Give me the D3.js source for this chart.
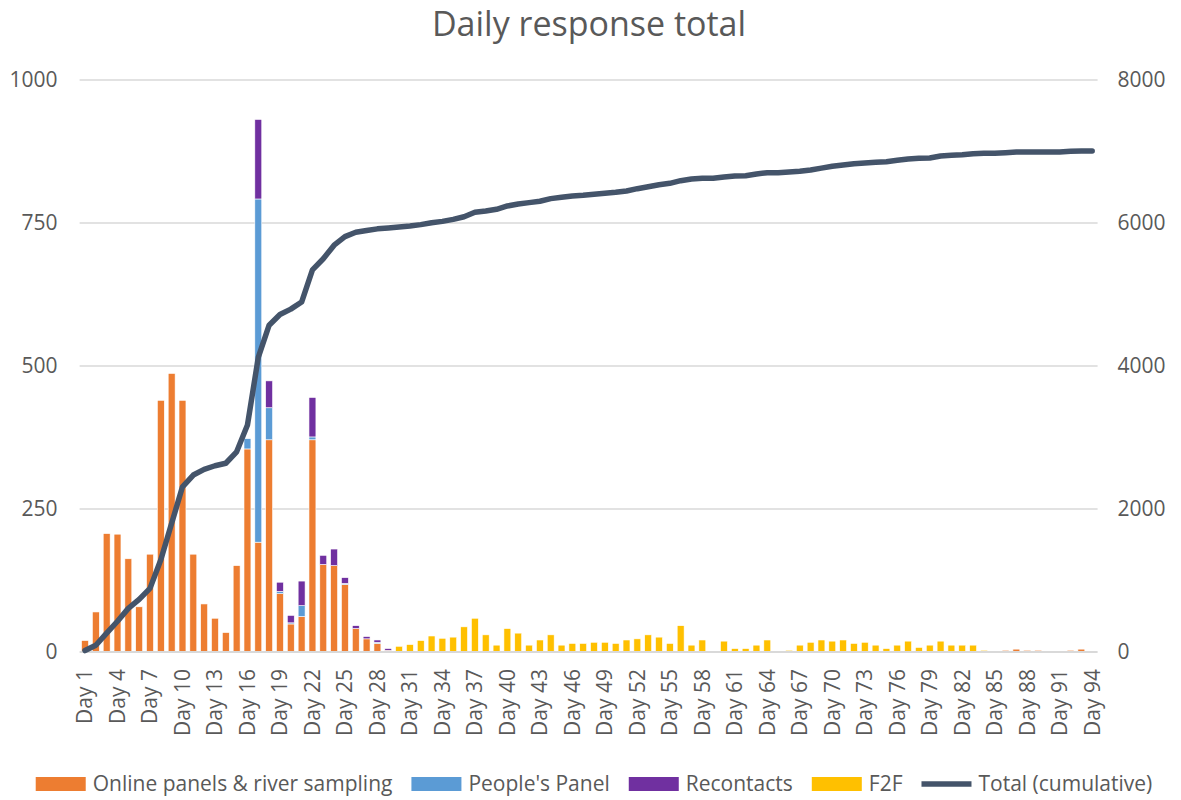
<!DOCTYPE html>
<html>
<head>
<meta charset="utf-8">
<script src="https://cdnjs.cloudflare.com/ajax/libs/d3/7.8.5/d3.min.js"></script>
<style>
  body { margin: 0; background: #fff; }
  svg text { font-family: "Open Sans", sans-serif; fill: #595959; }
</style>
</head>
<body>
<div id="chart"></div>
<script>
// === data (one entry per day, Day 1 .. Day 94)
var days = d3.range(1, 95).map(function(d) { return "Day " + d; });
var tickDays = [1, 4, 7, 10, 13, 16, 19, 22, 25, 28, 31, 34, 37, 40, 43, 46,
  49, 52, 55, 58, 61, 64, 67, 70, 73, 76, 79, 82, 85, 88, 91, 94];

var online = [
  20, 70, 207, 206, 163, 79, 171, 440, 487, 440,
  171, 84, 59, 34, 151, 355, 192, 371, 102, 49,
  62, 371, 153, 151, 118, 41, 23, 15, 3, 0,
  0, 0, 0, 0, 0, 0, 0, 0, 0, 0,
  0, 0, 0, 0, 0, 0, 0, 0, 0, 0,
  0, 0, 0, 0, 0, 0, 0, 0, 0, 0,
  0, 0, 0, 0, 0, 0, 0, 0, 0, 0,
  0, 0, 0, 0, 0, 0, 0, 0, 0, 0,
  0, 0, 0, 0, 0, 3, 5, 3, 3, 0,
  0, 3, 5, 0];

var peoples = [
  0, 0, 0, 0, 0, 0, 0, 0, 0, 0,
  0, 0, 0, 0, 0, 18, 600, 56, 4, 2,
  19, 5, 0, 0, 2, 0, 0, 2, 0, 0,
  0, 0, 0, 0, 0, 0, 0, 0, 0, 0,
  0, 0, 0, 0, 0, 0, 0, 0, 0, 0,
  0, 0, 0, 0, 0, 0, 0, 0, 0, 0,
  0, 0, 0, 0, 0, 0, 0, 0, 0, 0,
  0, 0, 0, 0, 0, 0, 0, 0, 0, 0,
  0, 0, 0, 0, 0, 0, 0, 0, 0, 0,
  0, 0, 0, 0];

var recontacts = [
  0, 0, 0, 0, 0, 0, 0, 0, 0, 0,
  0, 0, 0, 0, 0, 0, 139, 47, 16, 13,
  43, 69, 16, 29, 10, 5, 4, 4, 3, 0,
  0, 0, 0, 0, 0, 0, 0, 0, 0, 0,
  0, 0, 0, 0, 0, 0, 0, 0, 0, 0,
  0, 0, 0, 0, 0, 0, 0, 0, 0, 0,
  0, 0, 0, 0, 0, 0, 0, 0, 0, 0,
  0, 0, 0, 0, 0, 0, 0, 0, 0, 0,
  0, 0, 0, 0, 0, 0, 0, 0, 0, 0,
  0, 0, 0, 0];

var f2f = [
  0, 0, 0, 0, 0, 0, 0, 0, 0, 0,
  0, 0, 0, 0, 0, 0, 0, 0, 0, 0,
  0, 0, 0, 0, 0, 0, 0, 0, 0, 10,
  13, 20, 28, 24, 26, 44, 59, 30, 12, 41,
  33, 12, 21, 30, 12, 15, 15, 17, 17, 15,
  21, 23, 30, 26, 15, 46, 12, 21, 0, 19,
  6, 6, 12, 21, 0, 3, 12, 17, 21, 19,
  21, 15, 17, 12, 6, 12, 19, 8, 12, 19,
  12, 12, 12, 3, 0, 0, 0, 0, 0, 0,
  0, 0, 0, 0];

var total = [
  20, 95, 265, 430, 610, 735, 890, 1290, 1800, 2310,
  2475, 2555, 2605, 2640, 2800, 3175, 4120, 4570, 4720, 4795,
  4895, 5345, 5500, 5690, 5810, 5870, 5895, 5918, 5930, 5944,
  5958, 5977, 6004, 6023, 6051, 6088, 6150, 6168, 6192, 6238,
  6266, 6285, 6304, 6341, 6360, 6378, 6387, 6401, 6415, 6429,
  6448, 6480, 6508, 6536, 6555, 6592, 6615, 6625, 6625, 6643,
  6657, 6662, 6685, 6704, 6704, 6713, 6723, 6741, 6767, 6793,
  6811, 6830, 6839, 6849, 6858, 6877, 6895, 6905, 6909, 6937,
  6946, 6955, 6969, 6974, 6974, 6983, 6993, 6993, 6993, 6993,
  6993, 7002, 7007, 7007];

var seriesNames = ["Online panels & river sampling", "People's Panel", "Recontacts", "F2F"];
var seriesColors = ["#ED7D31", "#5B9BD5", "#7030A0", "#FFC000"];
var lineName = "Total (cumulative)";
var lineColor = "#44546A";
var leftTicks = [0, 250, 500, 750, 1000];
var rightTicks = [0, 2000, 4000, 6000, 8000];

// === build rows for the stack
var rows = days.map(function(d, i) {
  return { day: d, s0: online[i], s1: peoples[i], s2: recontacts[i], s3: f2f[i], total: total[i] };
});
var stacked = d3.stack().keys(["s0", "s1", "s2", "s3"])(rows);

var W = 1181, H = 800;
var plotL = 79.6, plotR = 1097.6, plotT = 80, plotB = 652;

var svg = d3.select("#chart").append("svg")
    .attr("width", W)
    .attr("height", H);

var x = d3.scaleBand().domain(days).range([plotL, plotR]).paddingInner(0.36).paddingOuter(0.18);
var y = d3.scaleLinear().domain([0, 1000]).range([plotB, plotT]);
var y2 = d3.scaleLinear().domain([0, 8000]).range([plotB, plotT]);

// title
svg.append("text")
  .attr("x", 589)
  .attr("y", 36)
  .attr("text-anchor", "middle")
  .attr("font-size", 34)
  .text("Daily response total");

// gridlines
svg.append("g")
  .selectAll("line")
  .data(leftTicks.filter(function(t) { return t > 0; })).enter()
    .append("line")
    .attr("x1", plotL).attr("x2", plotR)
    .attr("y1", function(d) { return y(d); })
    .attr("y2", function(d) { return y(d); })
    .attr("stroke", "#d9d9d9")
    .attr("stroke-width", 1.5);

// left axis
var yAxis = svg.append("g")
  .attr("transform", "translate(" + plotL + ",0)")
  .call(d3.axisLeft(y).tickValues(leftTicks).tickFormat(d3.format("d")).tickSize(0).tickPadding(22));
yAxis.select(".domain").remove();
yAxis.selectAll("text").attr("font-size", 21).attr("fill", "#595959");

// right axis
var y2Axis = svg.append("g")
  .attr("transform", "translate(" + plotR + ",0)")
  .call(d3.axisRight(y2).tickValues(rightTicks).tickFormat(d3.format("d")).tickSize(0).tickPadding(20));
y2Axis.select(".domain").remove();
y2Axis.selectAll("text").attr("font-size", 21).attr("fill", "#595959");

// bars
svg.append("g")
  .selectAll("g")
  .data(stacked).enter()
    .append("g")
    .attr("fill", function(d, i) { return seriesColors[i]; })
  .selectAll("rect")
  .data(function(d) { return d.filter(function(v) { return v[1] - v[0] > 0; }); }).enter()
    .append("rect")
    .attr("x", function(d) { return x(d.data.day); })
    .attr("width", x.bandwidth())
    .attr("y", function(d) { return y(d[1]); })
    .attr("height", function(d) { return y(d[0]) - y(d[1]); })
    .attr("stroke", "#fff")
    .attr("stroke-width", 0.6);

// baseline
svg.append("line")
  .attr("x1", plotL).attr("x2", plotR)
  .attr("y1", plotB).attr("y2", plotB)
  .attr("stroke", "#d9d9d9")
  .attr("stroke-width", 2);

// x axis labels, rotated
var xAxis = svg.append("g")
  .attr("transform", "translate(0," + plotB + ")")
  .call(d3.axisBottom(x).tickValues(tickDays.map(function(d) { return "Day " + d; })).tickSize(0));
xAxis.select(".domain").remove();
xAxis.selectAll("text")
  .attr("font-size", 21)
  .attr("fill", "#595959")
  .attr("text-anchor", "end")
  .attr("transform", "rotate(-90)")
  .attr("x", -17)
  .attr("y", 0)
  .attr("dy", "0.35em");

// cumulative line
var line = d3.line()
  .x(function(d) { return x(d.day) + x.bandwidth() / 2; })
  .y(function(d) { return y2(d.total); });

svg.append("path")
  .datum(rows)
  .attr("d", line)
  .attr("fill", "none")
  .attr("stroke", lineColor)
  .attr("stroke-width", 5.5)
  .attr("stroke-linejoin", "round")
  .attr("stroke-linecap", "round");

// === legend
var legendItems = seriesNames.map(function(n, i) { return { name: n, color: seriesColors[i], isLine: false }; });
legendItems.push({ name: lineName, color: lineColor, isLine: true });

var legend = svg.append("g");
var lx = 0;
legendItems.forEach(function(item) {
  var g = legend.append("g").attr("transform", "translate(" + lx + ",0)");
  if (item.isLine) {
    g.append("line")
      .attr("x1", 0).attr("x2", 50)
      .attr("y1", 0).attr("y2", 0)
      .attr("stroke", item.color)
      .attr("stroke-width", 5.5);
  } else {
    g.append("rect")
      .attr("x", 0).attr("y", -7)
      .attr("width", 50).attr("height", 14)
      .attr("fill", item.color);
  }
  var t = g.append("text")
    .attr("x", 57)
    .attr("y", 0)
    .attr("dy", "0.35em")
    .attr("font-size", 21)
    .text(item.name);
  lx += 57 + t.node().getComputedTextLength() + 19;
});
lx -= 19;
legend.attr("transform", "translate(" + (594 - lx / 2) + ",784)");
</script>
</body>
</html>
